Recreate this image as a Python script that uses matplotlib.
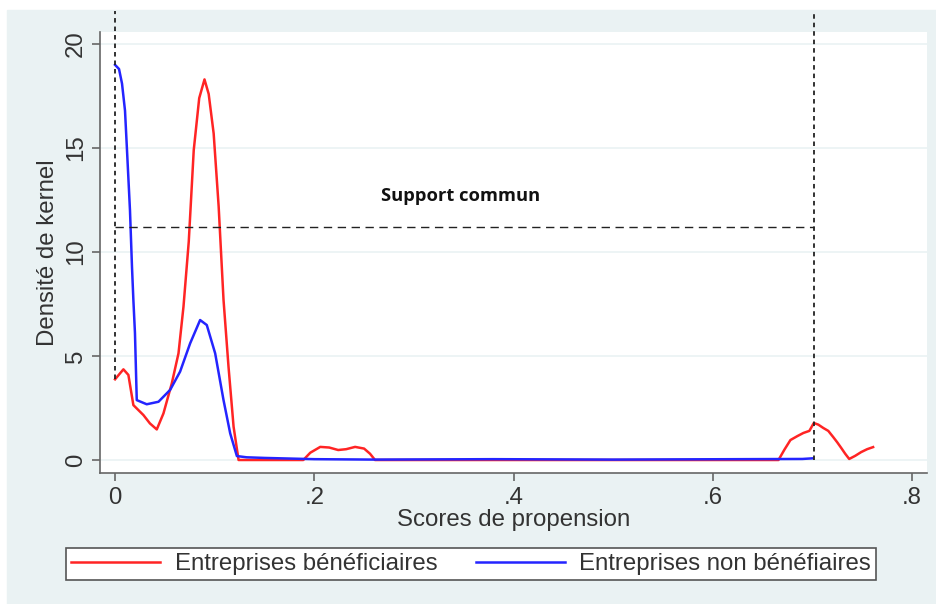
import matplotlib
matplotlib.use("Agg")
import matplotlib.pyplot as plt
from matplotlib.patches import Rectangle

plt.rcParams['font.family'] = ['Liberation Sans', 'DejaVu Sans']

# Densités (score de propension, densité)
x_benef = [0.0, 0.0084, 0.0134, 0.0184, 0.0285, 0.035, 0.0419, 0.0486, 0.057,
           0.0637, 0.0687, 0.074, 0.079, 0.0845, 0.0898, 0.094, 0.099, 0.104,
           0.1089, 0.1139, 0.119, 0.124, 0.15, 0.189, 0.196, 0.206, 0.215,
           0.224, 0.232, 0.241, 0.25, 0.256, 0.261, 0.40, 0.55, 0.666, 0.672,
           0.678, 0.685, 0.691, 0.697, 0.7015, 0.706, 0.711, 0.716, 0.721,
           0.725, 0.729, 0.733, 0.737, 0.743, 0.749, 0.755, 0.761]
y_benef = [3.88, 4.36, 4.09, 2.64, 2.16, 1.76, 1.47, 2.24, 3.69,
           5.13, 7.37, 10.5, 14.9, 17.4, 18.3, 17.6, 15.7, 12.2,
           7.7, 4.49, 1.6, 0.0, 0.0, 0.0, 0.35, 0.63, 0.6,
           0.48, 0.52, 0.63, 0.55, 0.3, 0.0, 0.0, 0.0, 0.0, 0.5,
           0.96, 1.15, 1.3, 1.4, 1.78, 1.7, 1.54, 1.4, 1.1,
           0.85, 0.58, 0.3, 0.05, 0.2, 0.38, 0.52, 0.62]

x_non = [0.0, 0.004, 0.007, 0.010, 0.012, 0.015, 0.017, 0.0184, 0.020, 0.0218,
         0.0318, 0.0436, 0.0553, 0.0653, 0.0754, 0.0854, 0.0921, 0.1005,
         0.1089, 0.1156, 0.1223, 0.132, 0.15, 0.2, 0.26, 0.38, 0.5, 0.69, 0.70]
y_non = [19.0, 18.8, 18.1, 16.8, 14.9, 12.0, 9.3, 7.7, 6.1, 2.88,
         2.68, 2.8, 3.37, 4.25, 5.61, 6.73, 6.49, 5.13,
         2.88, 1.28, 0.19, 0.13, 0.1, 0.04, 0.02, 0.04, 0.02, 0.05, 0.08]

borne_basse = 0.0
borne_haute = 0.7015
niveau_support = 11.2
xticks = [0, 0.2, 0.4, 0.6, 0.8]
xtick_labels = ['0', '.2', '.4', '.6', '.8']
yticks = [0, 5, 10, 15, 20]

fond = '#EAF2F3'
texte = '#333333'
taille = 17.3

fig = plt.figure(figsize=(9.36, 6.04), dpi=100, facecolor='white')
fig.patches.append(Rectangle((7 / 936, 0), 1, (604 - 10) / 604,
                             transform=fig.transFigure, color=fond, zorder=-5))

ax = fig.add_axes([100 / 936, (604 - 473) / 604, 827 / 936, 441 / 604])
ax.set_facecolor('white')
ax.set_xlim(-0.0151, 0.8151)
ax.set_ylim(-0.625, 20.58)

for yv in yticks:
    ax.axhline(yv, color=fond, lw=1.2, zorder=1)

l1, = ax.plot(x_benef, y_benef, color='#FF2424', lw=1.8, zorder=3)
l2, = ax.plot(x_non, y_non, color='#2424FF', lw=1.8, zorder=3)

# Support commun
ax.plot([borne_basse, borne_haute], [niveau_support, niveau_support],
        color='#222222', lw=1.0, dashes=(6, 4), zorder=4)
ax.plot([borne_basse, borne_basse], [y_benef[0], 21.6], color='#222222',
        lw=1.3, dashes=(2.5, 2.2), clip_on=False, zorder=4)
ax.plot([borne_haute, borne_haute], [0, 21.6], color='#222222',
        lw=1.3, dashes=(2.5, 2.2), clip_on=False, zorder=4)
ax.text(0.347, 12.7, 'Support commun', ha='center', va='center',
        fontsize=13.2, fontweight='bold', family=['Open Sans', 'DejaVu Sans'],
        color='#111111')

for s in ['top', 'right']:
    ax.spines[s].set_visible(False)
for s in ['left', 'bottom']:
    ax.spines[s].set_color('#666666')
    ax.spines[s].set_linewidth(1.2)

ax.set_xticks(xticks)
ax.set_xticklabels(xtick_labels)
ax.set_yticks(yticks)
ax.tick_params(axis='both', colors='#666666', labelcolor=texte, labelsize=taille,
               length=6, width=1.2)
ax.tick_params(axis='x', pad=4)
for lab in ax.get_yticklabels():
    lab.set_rotation(90)
    lab.set_va('center')

ax.set_xlabel('Scores de propension', fontsize=taille, color=texte, labelpad=0)
ax.set_ylabel('Densité de kernel', fontsize=taille, color=texte, labelpad=4)

leg = fig.legend([l1, l2], ['Entreprises bénéficiaires', 'Entreprises non bénéfiaires'],
                 ncol=2, mode='expand', loc='lower left',
                 bbox_to_anchor=(66 / 936, 24 / 604, 810 / 936, 37 / 604),
                 fontsize=taille, frameon=True, fancybox=False, handlelength=3.7,
                 handletextpad=0.62, borderaxespad=0, borderpad=0.2,
                 labelcolor=texte, framealpha=1)
leg.get_frame().set_edgecolor('#555555')
leg.get_frame().set_linewidth(1.2)

fig.savefig('out.png', dpi=100, facecolor='white')
